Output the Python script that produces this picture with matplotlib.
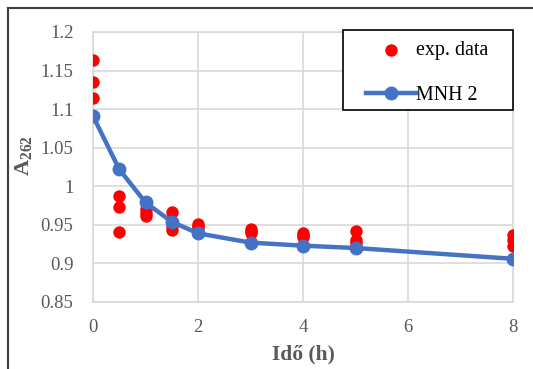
import matplotlib
matplotlib.use('Agg')
import matplotlib.pyplot as plt
from matplotlib.patches import Rectangle

# model curve (MNH 2)
t_model = [0, 0.5, 1, 1.5, 2, 3, 4, 5, 8]
a_model = [1.091, 1.022, 0.979, 0.954, 0.939, 0.927, 0.923, 0.920, 0.906]

# experimental data (three repeats per time point)
t_exp = [0, 0, 0, 0.5, 0.5, 0.5, 1, 1, 1, 1.5, 1.5, 1.5, 2, 2, 2,
         3, 3, 3, 4, 4, 4, 5, 5, 5, 8, 8, 8]
a_exp = [1.164, 1.135, 1.115, 0.988, 0.973, 0.941, 0.970, 0.965, 0.962,
         0.967, 0.948, 0.943, 0.951, 0.948, 0.946, 0.945, 0.942, 0.940,
         0.940, 0.937, 0.934, 0.942, 0.930, 0.927, 0.937, 0.930, 0.922]

xticks = [0, 2, 4, 6, 8]
yticks = [0.85, 0.9, 0.95, 1, 1.05, 1.1, 1.15, 1.2]
ytick_labels = ['0.85', '0.9', '0.95', '1', '1.05', '1.1', '1.15', '1.2']

plt.rcParams['font.family'] = ['Liberation Serif', 'DejaVu Serif']
plt.rcParams['mathtext.fontset'] = 'custom'
plt.rcParams['mathtext.rm'] = 'Liberation Serif'
plt.rcParams['mathtext.bf'] = 'Liberation Serif:bold'

fig = plt.figure(figsize=(5.33, 3.69), dpi=100)
ax = fig.add_axes([93/533, 1 - 302/369, 420/533, 270/369])

ax.scatter(t_exp, a_exp, s=80, color='#FF0000', zorder=3, label='exp. data',
           linewidths=0)
ax.plot(t_model, a_model, color='#4472C4', lw=3.2, marker='o', ms=9,
        zorder=4, label='MNH 2')

ax.set_xlim(0, 8)
ax.set_ylim(0.85, 1.2)
ax.set_xticks(xticks)
ax.set_yticks(yticks)
ax.set_yticklabels(ytick_labels)
ax.grid(True, color='#D9D9D9', lw=1.2)
ax.set_axisbelow(True)
for s in ax.spines.values():
    s.set_color('#D9D9D9')
    s.set_linewidth(1.2)
ax.tick_params(length=0, labelsize=13.5, labelcolor='#595959')
ax.tick_params(axis='y', pad=14)
ax.tick_params(axis='x', pad=12)

ax.set_xlabel('Idő (h)', fontsize=15.5, fontweight='bold', color='#595959',
              labelpad=6)
ax.set_ylabel('A$_{\\mathbf{262}}$', fontsize=16, fontweight='bold',
              color='#595959')
ax.yaxis.set_label_coords(-0.138, 0.544)

# legend box drawn separately, entries placed inside it
box = Rectangle((343/533, 1 - 110/369), 170/533, 80/369,
                transform=fig.transFigure, fill=True, facecolor='white',
                edgecolor='black', lw=1.2, zorder=5, clip_on=False)
ax.add_patch(box)
leg = ax.legend(loc='upper left', bbox_to_anchor=(366/533, 1 - 41/369),
                bbox_transform=fig.transFigure, borderaxespad=0,
                fontsize=14.4, frameon=False, labelspacing=1.3,
                handlelength=2.5, handletextpad=0.0, borderpad=0,
                scatterpoints=1)
leg.set_zorder(6)

# outer frame of the figure
fig.patches.append(Rectangle((8/533, -0.1), 1.2, 1 - 8/369 + 0.1,
                             transform=fig.transFigure, fill=False,
                             edgecolor='#404040', lw=1.5))

fig.savefig('out.png', dpi=100)
